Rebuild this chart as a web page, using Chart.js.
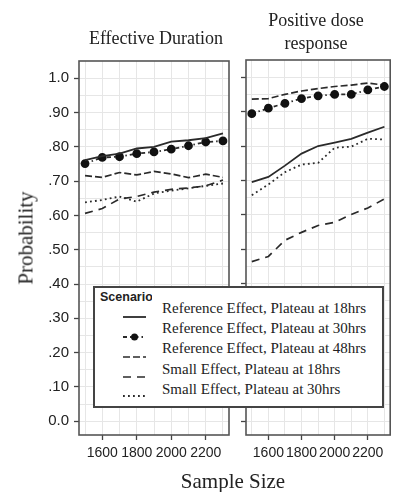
<!DOCTYPE html>
<html><head><meta charset="utf-8">
<script src="https://cdn.jsdelivr.net/npm/chart.js@4.4.1/dist/chart.umd.min.js"></script>
<style>
html,body{margin:0;padding:0;background:#fff;}
#wrap{position:relative;width:396px;height:492px;overflow:hidden;}
canvas{position:absolute;}
.t{position:absolute;font-family:"Liberation Serif","Times New Roman",serif;color:#222;white-space:nowrap;line-height:1;transform:translate(-50%,-50%);}
</style></head><body>
<div id="wrap">
<canvas id="c1" width="236" height="470" style="left:0;top:0"></canvas>
<canvas id="c2" width="160" height="470" style="left:236px;top:0"></canvas>
<div class="t" style="font-size:18px;left:156px;top:38px;">Effective Duration</div>
<div class="t" style="font-size:18px;left:316px;top:20px;">Positive dose</div>
<div class="t" style="font-size:18px;left:316px;top:43px;">response</div>
<div class="t" style="font-size:21px;left:26px;top:238px;transform:translate(-50%,-50%) rotate(-90deg);">Probability</div>
<div class="t" style="font-size:21px;left:233px;top:481px;">Sample Size</div>
<div id="leg" style="position:absolute;left:93px;top:286px;width:291px;height:122px;box-sizing:border-box;border:2px solid #444;background:#fff;">
  <div style="position:absolute;left:5px;top:2px;font:bold 12.5px 'Liberation Sans',Arial,sans-serif;color:#222;">Scenarios</div>
  <svg id="legsvg" style="position:absolute;left:0;top:0" width="287" height="118"></svg>
  <div id="legtext" style="position:absolute;left:57px;top:2px;width:220px;height:110px;background:#fff;box-sizing:border-box;padding:8px 0 0 10px;font-family:'Liberation Serif','Times New Roman',serif;font-size:15px;line-height:20.2px;color:#222;"></div>
</div>
</div>
<script>
// ---- data ----
const sampleSizes = [1500, 1600, 1700, 1800, 1900, 2000, 2100, 2200, 2300];
const seriesNames = [
  "Reference Effect, Plateau at 18hrs",
  "Reference Effect, Plateau at 30hrs",
  "Reference Effect, Plateau at 48hrs",
  "Small Effect, Plateau at 18hrs",
  "Small Effect, Plateau at 30hrs"
];
// Effective Duration panel
const edRef18   = [0.761, 0.773, 0.780, 0.795, 0.800, 0.815, 0.819, 0.825, 0.839];
const edRef30   = [0.751, 0.769, 0.771, 0.780, 0.785, 0.793, 0.803, 0.814, 0.817];
const edRef48   = [0.716, 0.711, 0.725, 0.718, 0.728, 0.721, 0.710, 0.720, 0.711];
const edSmall18 = [0.606, 0.620, 0.648, 0.655, 0.668, 0.676, 0.680, 0.686, 0.703];
const edSmall30 = [0.638, 0.645, 0.655, 0.640, 0.664, 0.672, 0.679, 0.686, 0.693];
// Positive dose response panel
const pdRef18   = [0.695, 0.710, 0.743, 0.778, 0.800, 0.810, 0.821, 0.839, 0.856];
const pdRef30   = [0.894, 0.910, 0.924, 0.938, 0.946, 0.950, 0.950, 0.963, 0.973];
const pdRef48   = [0.936, 0.938, 0.950, 0.960, 0.967, 0.973, 0.977, 0.983, 0.977];
const pdSmall18 = [0.464, 0.479, 0.526, 0.549, 0.569, 0.578, 0.601, 0.620, 0.646];
const pdSmall30 = [0.657, 0.688, 0.724, 0.746, 0.751, 0.795, 0.798, 0.821, 0.819];
// ticks
const xTickValues = [1600, 1800, 2000, 2200];
const xTickLabels = ["1600", "1800", "2000", "2200"];
const xGridValues = [1500, 1600, 1700, 1800, 1900, 2000, 2100, 2200, 2300];
const yTickValues = [0, 0.1, 0.2, 0.3, 0.4, 0.5, 0.6, 0.7, 0.8, 0.9, 1.0];
const yTickLabels = ["0.0", ".10", ".20", ".30", ".40", ".50", ".60", ".70", ".80", ".90", "1.0"];
const yGridValues = [0, 0.05, 0.1, 0.15, 0.2, 0.25, 0.3, 0.35, 0.4, 0.45, 0.5, 0.55, 0.6, 0.65, 0.7, 0.75, 0.8, 0.85, 0.9, 0.95, 1.0];

// ---- styles ----
const LINE = '#2a2a2a';
const styles = [
  {borderDash: [], borderWidth: 1.8, pointRadius: 0},
  {borderDash: [4, 3, 1.5, 3], borderWidth: 1.8, pointRadius: 3.5, pointBackgroundColor: '#111', pointBorderColor: '#111'},
  {borderDash: [7, 3], borderWidth: 1.7, pointRadius: 0},
  {borderDash: [8, 6], borderWidth: 1.7, pointRadius: 0},
  {borderDash: [1.8, 3.2], borderWidth: 1.8, pointRadius: 0}
];

function idxOf(arr, v) { for (let i = 0; i < arr.length; i++) if (Math.abs(arr[i] - v) < 1e-6) return i; return -1; }

function makeDatasets(list) {
  return list.map((vals, k) => Object.assign({
    label: seriesNames[k],
    data: sampleSizes.map((x, i) => ({x: x, y: vals[i]})),
    borderColor: LINE, backgroundColor: LINE, tension: 0, fill: false
  }, styles[k]));
}

const frame = {id: 'frame', afterDatasetsDraw(chart) {
  const {ctx, chartArea: a} = chart;
  ctx.save(); ctx.strokeStyle = '#555'; ctx.lineWidth = 1.6;
  ctx.strokeRect(a.left, a.top, a.right - a.left, a.bottom - a.top);
  ctx.restore();
}};

function makeOpts(showY, top, right) {
  return {
    responsive: false, animation: false,
    layout: {padding: {top: top, right: right, left: 0, bottom: 0}},
    plugins: {legend: {display: false}, tooltip: {enabled: false}},
    scales: {
      x: {
        type: 'linear', min: 1465, max: 2335,
        afterBuildTicks: s => { s.ticks = xGridValues.map(v => ({value: v})); },
        afterFit: s => { s.height = 35; },
        grid: {color: '#e6e6e6', lineWidth: 1, drawTicks: true, tickLength: 5, tickWidth: 1.3,
               tickColor: c => (c.tick && idxOf(xTickValues, c.tick.value) >= 0) ? '#444' : 'rgba(0,0,0,0)'},
        border: {display: false},
        ticks: {autoSkip: false, maxRotation: 0, minRotation: 0, padding: 5, color: '#222',
                font: {family: "'Liberation Sans', Arial, sans-serif", size: 14},
                callback: v => { const i = idxOf(xTickValues, v); return i >= 0 ? xTickLabels[i] : ''; }}
      },
      y: {
        type: 'linear', min: -0.04, max: 1.05,
        afterBuildTicks: s => { s.ticks = yGridValues.map(v => ({value: v})); },
        afterFit: s => { s.width = showY ? 79 : 10; },
        grid: {color: '#e6e6e6', lineWidth: 1, drawTicks: true, tickLength: 5, tickWidth: 1.3,
               tickColor: c => (c.tick && idxOf(yTickValues, c.tick.value) >= 0) ? '#444' : 'rgba(0,0,0,0)'},
        border: {display: false},
        ticks: {autoSkip: false, padding: 5, color: '#222',
                font: {family: "'Liberation Sans', Arial, sans-serif", size: 15},
                callback: v => { if (!showY) return ''; const i = idxOf(yTickValues, v); return i >= 0 ? yTickLabels[i] : ''; }}
      }
    }
  };
}

new Chart(document.getElementById('c1'), {
  type: 'line',
  data: {datasets: makeDatasets([edRef18, edRef30, edRef48, edSmall18, edSmall30])},
  options: makeOpts(true, 61, 7),
  plugins: [frame]
});
new Chart(document.getElementById('c2'), {
  type: 'line',
  data: {datasets: makeDatasets([pdRef18, pdRef30, pdRef48, pdSmall18, pdSmall30])},
  options: makeOpts(false, 60, 3),
  plugins: [frame]
});

// ---- legend ----
const svgNS = 'http://www.w3.org/2000/svg';
const svg = document.getElementById('legsvg');
const symY = [29, 49, 69, 89, 108];
styles.forEach((st, k) => {
  const l = document.createElementNS(svgNS, 'line');
  l.setAttribute('x1', 28); l.setAttribute('x2', 51);
  l.setAttribute('y1', symY[k]); l.setAttribute('y2', symY[k]);
  l.setAttribute('stroke', LINE); l.setAttribute('stroke-width', st.borderWidth);
  if (st.borderDash.length) l.setAttribute('stroke-dasharray', st.borderDash.join(' '));
  svg.appendChild(l);
  if (st.pointRadius) {
    const c = document.createElementNS(svgNS, 'circle');
    c.setAttribute('cx', 39.5); c.setAttribute('cy', symY[k]); c.setAttribute('r', st.pointRadius);
    c.setAttribute('fill', '#111');
    svg.appendChild(c);
  }
});
document.getElementById('legtext').innerHTML = seriesNames.map(s => '<div>' + s + '</div>').join('');
</script>
</body></html>
